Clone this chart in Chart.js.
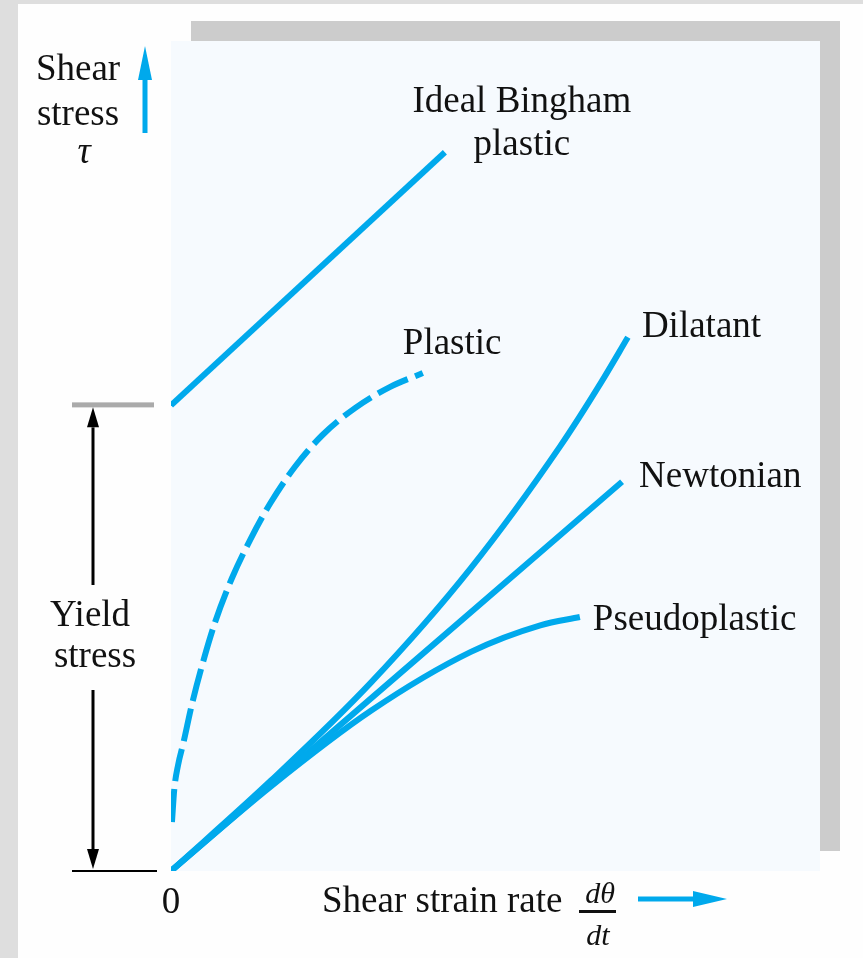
<!DOCTYPE html>
<html>
<head>
<meta charset="utf-8">
<title>Shear stress vs shear strain rate</title>
<script src="https://cdn.jsdelivr.net/npm/chart.js@4.4.1/dist/chart.umd.min.js"></script>
<style>
  html, body { margin: 0; padding: 0; background: #fefefe; }
  canvas { display: block; }
</style>
</head>
<body>
<canvas id="flow" width="863" height="958"></canvas>
<script>
// shear strain rate (x) vs shear stress (y), arbitrary units 0..100
const newtonianX = [0, 69.5];
const newtonianY = [0, 46.9];
const dilatantX = [0, 15.4, 30.8, 46.2, 59.9, 66.3, 70.4];
const dilatantY = [0, 10.9, 22.7, 36.5, 51.1, 58.9, 64.3];
const pseudoX = [0, 15.4, 30.8, 46.2, 56.9, 63.0];
const pseudoY = [0, 10.2, 19.3, 26.4, 29.6, 30.6];
const binghamX = [0, 42.2];
const binghamY = [56.1, 86.6];
const plasticX = [0.15, 0.5, 1.1, 1.9, 3.2, 4.8, 6.8, 9.4, 12.2, 15.3, 19.1, 23.3, 28.4, 33.7, 38.8];
const plasticY = [5.9, 9.8, 12.8, 15.4, 20.0, 24.8, 30.0, 35.3, 39.9, 44.3, 48.7, 52.5, 55.8, 58.3, 60.0];
const xTickLabels = ['0'];

const BLUE = '#00a9ec';
const INK = '#111111';
const SERIF = '"Liberation Serif", "Times New Roman", serif';

const pts = (xs, ys) => xs.map((x, i) => ({ x: x, y: ys[i] }));

function curve(label, xs, ys, dashed) {
    return {
        label: label,
        data: pts(xs, ys),
        borderColor: BLUE,
        borderWidth: 6,
        borderDash: dashed ? [33, 8] : [],
        pointRadius: 0,
        cubicInterpolationMode: 'monotone',
        fill: false
    };
}

function arrow(ctx, x1, y1, x2, y2, width, headLen, headHalf, color) {
    const ang = Math.atan2(y2 - y1, x2 - x1);
    const bx = x2 - Math.cos(ang) * headLen, by = y2 - Math.sin(ang) * headLen;
    ctx.save();
    ctx.strokeStyle = color;
    ctx.fillStyle = color;
    ctx.lineWidth = width;
    ctx.beginPath();
    ctx.moveTo(x1, y1);
    ctx.lineTo(bx, by);
    ctx.stroke();
    ctx.beginPath();
    ctx.moveTo(x2, y2);
    ctx.lineTo(bx + Math.sin(ang) * headHalf, by - Math.cos(ang) * headHalf);
    ctx.lineTo(bx - Math.sin(ang) * headHalf, by + Math.cos(ang) * headHalf);
    ctx.closePath();
    ctx.fill();
    ctx.restore();
}

// page frame, drop shadow and tinted plot panel
const backdrop = {
    id: 'backdrop',
    beforeDraw(chart) {
        const { ctx, chartArea: a } = chart;
        ctx.save();
        ctx.fillStyle = '#dedede';
        ctx.fillRect(0, 0, chart.width, chart.height);
        ctx.fillStyle = '#fefefe';
        ctx.fillRect(18, 4, chart.width - 18, chart.height - 4);
        ctx.fillStyle = '#cccccc';
        ctx.fillRect(a.left + 20, a.top - 20, a.right - a.left, a.bottom - a.top);
        ctx.fillStyle = '#f6fafe';
        ctx.fillRect(a.left, a.top, a.right - a.left, a.bottom - a.top);
        ctx.restore();
    }
};

// curve names, axis titles and the yield-stress dimension
const annotations = {
    id: 'annotations',
    afterDraw(chart) {
        const { ctx, scales: { x, y } } = chart;
        const end = (i) => {
            const d = chart.getDatasetMeta(i).data;
            const p = d[d.length - 1];
            return { x: p.x, y: p.y };
        };
        ctx.save();
        ctx.fillStyle = INK;
        ctx.font = '37px ' + SERIF;
        ctx.textBaseline = 'alphabetic';

        let p = end(0);
        ctx.textAlign = 'left';
        ctx.fillText('Newtonian', p.x + 17, p.y + 5);
        p = end(1);
        ctx.fillText('Dilatant', p.x + 14, p.y);
        p = end(2);
        ctx.fillText('Pseudoplastic', p.x + 13, p.y + 13);
        p = end(4);
        ctx.fillText('Plastic', p.x - 20, p.y - 19);
        p = end(3);
        ctx.textAlign = 'center';
        ctx.fillText('Ideal Bingham', p.x + 77, p.y - 40);
        ctx.fillText('plastic', p.x + 77, p.y + 3);

        // y axis title
        ctx.fillText('Shear', 78, 80);
        ctx.fillText('stress', 78, 125);
        ctx.font = 'italic 37px ' + SERIF;
        ctx.fillText('\u03c4', 84, 163);
        arrow(ctx, 145, 133, 145, 46, 5, 34, 7, BLUE);

        // x axis title
        ctx.fillStyle = INK;
        ctx.font = '37px ' + SERIF;
        ctx.fillText(xTickLabels[0], x.getPixelForValue(0), 913);
        ctx.textAlign = 'left';
        ctx.fillText('Shear strain rate', 322, 912);
        ctx.font = 'italic 30px ' + SERIF;
        ctx.textAlign = 'center';
        ctx.fillText('d\u03b8', 600, 903);
        ctx.fillText('dt', 598, 945);
        ctx.fillRect(579, 910, 37, 3);
        arrow(ctx, 638, 899, 727, 899, 5, 34, 8, BLUE);

        // yield stress marker, level taken from the Bingham intercept
        const yTop = y.getPixelForValue(binghamY[0]);
        const yBot = y.getPixelForValue(0);
        ctx.fillStyle = '#aaaaaa';
        ctx.fillRect(72, yTop - 3, 82, 5);
        ctx.fillStyle = '#000';
        ctx.fillRect(72, yBot - 1, 85, 2);
        arrow(ctx, 93, 585, 93, yTop + 2, 3, 20, 6, '#000');
        arrow(ctx, 93, 690, 93, yBot - 2, 3, 20, 6, '#000');
        ctx.fillStyle = INK;
        ctx.font = '37px ' + SERIF;
        ctx.fillText('Yield', 90, 626);
        ctx.fillText('stress', 95, 667);
        ctx.restore();
    }
};

new Chart(document.getElementById('flow'), {
    type: 'line',
    data: {
        datasets: [
            curve('Newtonian', newtonianX, newtonianY, false),
            curve('Dilatant', dilatantX, dilatantY, false),
            curve('Pseudoplastic', pseudoX, pseudoY, false),
            curve('Ideal Bingham plastic', binghamX, binghamY, false),
            curve('Plastic', plasticX, plasticY, true)
        ]
    },
    options: {
        responsive: false,
        animation: false,
        layout: { padding: { left: 171, right: 43, top: 41, bottom: 87 } },
        plugins: { legend: { display: false }, tooltip: { enabled: false } },
        scales: {
            x: { type: 'linear', min: 0, max: 100, display: false },
            y: { type: 'linear', min: 0, max: 100, display: false }
        }
    },
    plugins: [backdrop, annotations]
});
</script>
</body>
</html>
